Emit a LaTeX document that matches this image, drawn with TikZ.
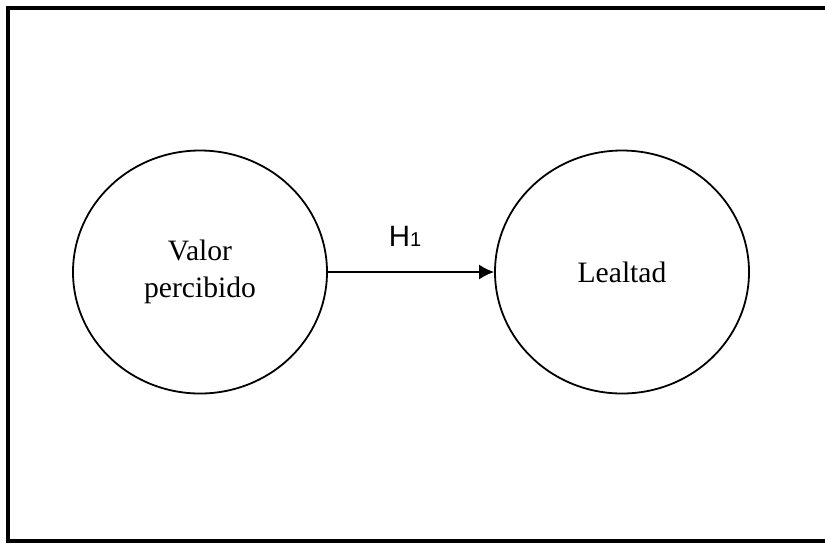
\documentclass[tikz,border=0pt]{standalone}
\usepackage{fontspec}
\setmainfont{Liberation Serif}
\newfontfamily\arialfont{Liberation Sans}
\usetikzlibrary{arrows.meta}
\usetikzlibrary{shapes.geometric}
\tikzset{constructo/.style={draw, ellipse, line width=0.9pt,
  minimum width=127pt, minimum height=121.5pt, inner sep=0pt,
  align=center, font=\fontsize{14.8}{18.5}\selectfont}}
\tikzset{hipotesis/.style={line width=0.9pt, -{Latex[length=7.5pt, width=7.5pt]}}}

\begin{document}
\begin{tikzpicture}[x=0.5pt, y=-0.5pt]
      \useasboundingbox (0, 0) rectangle (825, 543);
      \clip (0, 0) rectangle (825, 543);
      \draw [line width=1.8pt] (8, 8) rectangle (840, 541);

      \node [constructo] (valor) at (200, 272) {Valor\\percibido};
      \node [constructo] (lealtad) at (622, 272) {Lealtad};

      \draw [hipotesis] (valor) -- (lealtad);
      \node [anchor = base, font=\arialfont\fontsize{14.7}{17}\selectfont] (h1) at (405, 246) {H{\fontsize{10}{12}\selectfont 1}};

    \end{tikzpicture}
\end{document}
